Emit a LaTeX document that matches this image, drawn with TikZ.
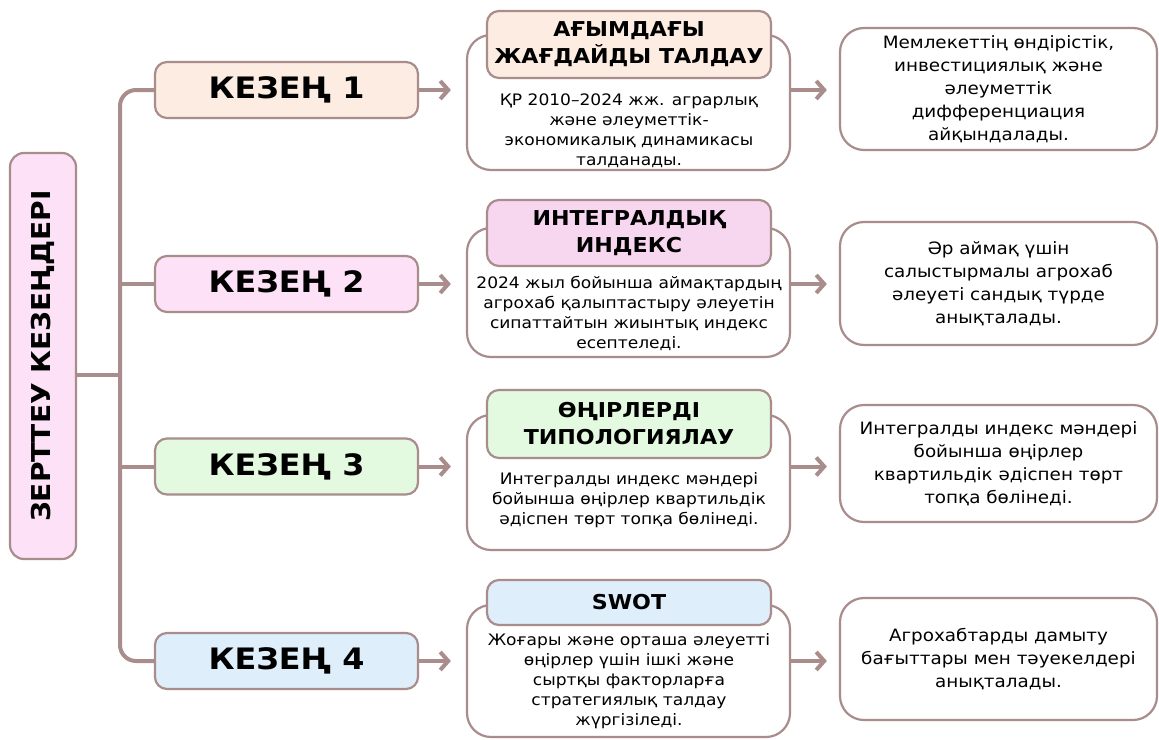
\documentclass[tikz,border=0pt]{standalone}
\usepackage{fontspec}
\setmainfont{DejaVu Sans}[FakeStretch=1.08]
\usetikzlibrary{positioning,arrows.meta}
\definecolor{mauve}{HTML}{A98C8C}
\definecolor{peach}{HTML}{FDECE1}
\definecolor{pinkbg}{HTML}{FDE2F7}
\definecolor{pinkhd}{HTML}{F7D7EF}
\definecolor{greenbg}{HTML}{E3FAE1}
\definecolor{bluebg}{HTML}{DFEEFB}

\begin{document}
\begin{tikzpicture}[x=1pt,y=-1pt,>={Straight Barb[length=8pt,width=18pt]},
    box/.style={draw=mauve,line width=2.2pt,rounded corners=12pt,align=center,inner sep=0pt},
    stagebox/.style={box,minimum width=263pt,minimum height=56pt,font=\fontsize{29.5}{33}\selectfont\bfseries},
    hdrbox/.style={box,minimum width=284pt,font=\fontsize{20.5}{27}\selectfont\bfseries},
    infobox/.style={box,fill=white,rounded corners=24pt,minimum width=323pt},
    bodytxt/.style={align=center,inner sep=0pt,font=\fontsize{15.8}{20}\selectfont},
    resbox/.style={box,fill=white,rounded corners=24pt,minimum width=317pt,font=\fontsize{17}{23}\selectfont},
    link/.style={draw=mauve,line width=4pt}]

    \path[fill=white,use as bounding box] (0,0) rectangle (1159,739);

    \path
    (43,356) node[box,fill=pinkbg,rounded corners=14pt,minimum width=66pt,minimum height=406pt] (title)
        {\rotatebox{90}{\fontsize{26}{30}\selectfont\bfseries ЗЕРТТЕУ КЕЗЕҢДЕРІ}}
    (286.5,90)    node[stagebox,fill=peach]   (s1) {КЕЗЕҢ 1}
    (286.5,284)   node[stagebox,fill=pinkbg]  (s2) {КЕЗЕҢ 2}
    (286.5,466.5) node[stagebox,fill=greenbg] (s3) {КЕЗЕҢ 3}
    (286.5,661)   node[stagebox,fill=bluebg]  (s4) {КЕЗЕҢ 4};

    % middle column
    \path
    (628.5,102.5) node[infobox,minimum height=135pt] (i1) {}
    (629,44.5)    node[hdrbox,fill=peach,minimum height=67pt] (h1) {АҒЫМДАҒЫ\\ЖАҒДАЙДЫ ТАЛДАУ}
    (629,131)     node[bodytxt] (t1) {ҚР 2010–2024 жж. аграрлық\\және әлеуметтік-\\экономикалық динамикасы\\талданады.};
    \path
    (628.5,292.5) node[infobox,minimum height=129pt] (i2) {}
    (629,233)     node[hdrbox,fill=pinkhd,minimum height=66pt] (h2) {ИНТЕГРАЛДЫҚ\\ИНДЕКС}
    (629,313)     node[bodytxt] (t2) {2024 жыл бойынша аймақтардың\\агрохаб қалыптастыру әлеуетін\\сипаттайтын жиынтық индекс\\есептеледі.};
    \path
    (628.5,482.5) node[infobox,minimum height=135pt] (i3) {}
    (629,424)     node[hdrbox,fill=greenbg,minimum height=68pt] (h3) {ӨҢІРЛЕРДІ\\ТИПОЛОГИЯЛАУ}
    (629,500)     node[bodytxt] (t3) {Интегралды индекс мәндері\\бойынша өңірлер квартильдік\\әдіспен төрт топқа бөлінеді.};
    \path
    (628.5,671)   node[infobox,minimum height=132pt] (i4) {}
    (629,602.5)   node[hdrbox,fill=bluebg,minimum height=45pt] (h4) {SWOT}
    (629,681)     node[bodytxt] (t4) {Жоғары және орташа әлеуетті\\өңірлер үшін ішкі және\\сыртқы факторларға\\стратегиялық талдау\\жүргізіледі.};

    % results
    \path
    (998.5,89)    node[resbox,minimum height=122pt] (r1) {Мемлекеттің өндірістік,\\инвестициялық және\\әлеуметтік\\дифференциация\\айқындалады.}
    (998.5,283.5) node[resbox,minimum height=123pt] (r2) {Әр аймақ үшін\\салыстырмалы агрохаб\\әлеуеті сандық түрде\\анықталады.}
    (998.5,463.5) node[resbox,minimum height=117pt] (r3) {Интегралды индекс мәндері\\бойынша өңірлер\\квартильдік әдіспен төрт\\топқа бөлінеді.}
    (998.5,659)   node[resbox,minimum height=122pt] (r4) {Агрохабтарды дамыту\\бағыттары мен тәуекелдері\\анықталады.};

    % tree
    \coordinate (tr) at (120,375);
    \draw[link,rounded corners=16pt] (s1.west) -| (tr) |- (s4.west);
    \draw[link] (title.east |- tr) -- (tr);
    \draw[link] (s2.west) -- (s2.west -| tr);
    \draw[link] (s3.west) -- (s3.west -| tr);

    % arrows
    \foreach \k in {1,2,3,4}{
        \draw[link,->,shorten >=15pt] (s\k.east) -- (s\k.east -| i\k.west);
        \draw[link,->,shorten >=12pt] (i\k.east |- s\k) -- (s\k -| r\k.west);
    }

\end{tikzpicture}
\end{document}
